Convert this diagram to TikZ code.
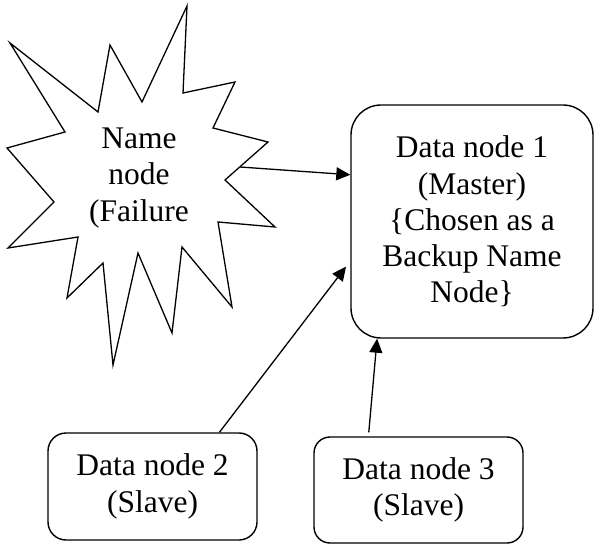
\documentclass[tikz,border=0pt]{standalone}
\usepackage{fontspec}
\setmainfont{Liberation Serif}
\usetikzlibrary{arrows.meta,calc}
\begin{document}
\begin{tikzpicture}[x=1pt,y=-1pt,
  every node/.style={font=\fontsize{31.5}{36.3}\selectfont, align=center, inner sep=0pt},
  databox/.style={draw, line width=1.4pt, rounded corners=#1},
  arr/.style={line width=1.3pt, -{Triangle[length=14pt,width=13pt]}},
  starline/.style={line width=1.3pt, line join=miter}]
\useasboundingbox (0,0) rectangle (594,545);
% star (name node)
\draw[starline] (10,43) -- (65,132) -- (7,148) -- (54,202) -- (8,248) -- (78,237)
  -- (67,298) -- (103,263) -- (113,365) -- (138,253) -- (172,333) -- (182,247)
  -- (232,307) -- (218,222) -- (275,227) -- (225,180) -- (268,142) -- (213,128)
  -- (235,82) -- (183,93) -- (187,6) -- (142,102) -- (110,45) -- (98,112) -- cycle;
\node (nn) at (139,178) {Name\\node\\(Failure};
\coordinate (nnout) at (240,167);
% data nodes
\node[databox=30pt, minimum width=242pt, minimum height=233pt] (d1) at (472,221.5)
  {Data node 1\\(Master)\\\{Chosen as a\\Backup Name\\Node\}};
\node[databox=18pt, minimum width=209pt, minimum height=107pt] (d2) at (152.5,486.5)
  {Data node 2\\(Slave)};
\node[databox=16pt, minimum width=209pt, minimum height=106pt] (d3) at (418.5,490)
  {Data node 3\\(Slave)};
% connectors
\draw[arr] (nnout) -- (d1.159.4);
\draw[arr, shorten >=7pt] (d2.39.7) -- (d1.198.9);
\draw[arr, shorten <=4pt] (d3.133.6) -- (d1.231.7);
\end{tikzpicture}
\end{document}
